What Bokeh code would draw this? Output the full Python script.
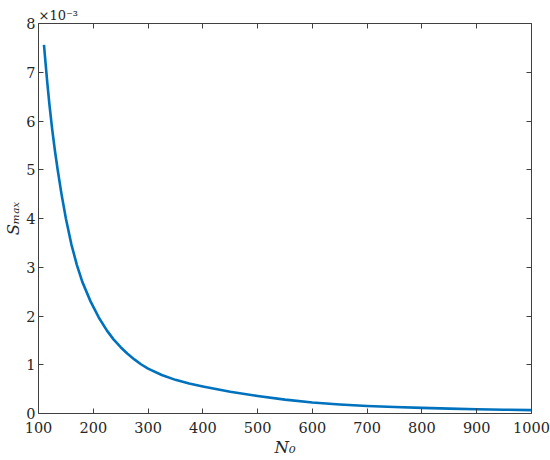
from bokeh.plotting import figure
from bokeh.models import (FixedTicker, LinearAxis, Range1d,
                          CustomJSTickFormatter, ColumnDataSource)
from bokeh.embed import file_html
from bokeh.resources import INLINE

# ---- data ----
n0 = [110, 113, 116, 120, 125, 130, 135, 142, 150, 160, 170, 180, 195, 210,
      225, 237, 250, 262, 275, 287, 300, 325, 350, 375, 400, 450, 500, 550,
      600, 650, 700, 750, 800, 850, 900, 950, 1000]
s_max = [7.56e-3, 7.17e-3, 6.79e-3, 6.33e-3, 5.83e-3, 5.39e-3, 5.00e-3,
         4.50e-3, 4.00e-3, 3.47e-3, 3.05e-3, 2.70e-3, 2.30e-3, 1.97e-3,
         1.70e-3, 1.52e-3, 1.36e-3, 1.23e-3, 1.11e-3, 1.01e-3, 0.92e-3,
         0.79e-3, 0.69e-3, 0.615e-3, 0.555e-3, 0.445e-3, 0.36e-3, 0.285e-3,
         0.225e-3, 0.185e-3, 0.155e-3, 0.133e-3, 0.115e-3, 0.10e-3,
         0.088e-3, 0.078e-3, 0.07e-3]
x_ticks = [100, 200, 300, 400, 500, 600, 700, 800, 900, 1000]
y_ticks = [0, 1e-3, 2e-3, 3e-3, 4e-3, 5e-3, 6e-3, 7e-3, 8e-3]
x_label = "N\u2080"
y_label = "S\u2098\u2090\u2093"
exp_label = "\u00d710\u207b\u00b3"

AX = "#404040"
TXT = "#262626"
FONT = "DejaVu Serif"

p = figure(width=550, height=460, output_backend="svg", toolbar_location=None,
           x_range=Range1d(100, 1000), y_range=Range1d(0, 8e-3),
           min_border_left=38, min_border_right=19, min_border_top=23,
           min_border_bottom=47, x_axis_location=None, y_axis_location=None,
           title=exp_label)
p.outline_line_color = None
p.grid.visible = False
p.background_fill_color = "white"
p.border_fill_color = "white"

p.title.text_font = FONT
p.title.text_font_style = "normal"
p.title.text_font_size = "13px"
p.title.text_color = TXT
p.title.align = "left"
p.title.offset = 0
p.title.standoff = 2

fmt = CustomJSTickFormatter(code="return (Math.round(tick*1000)).toString();")
blank = CustomJSTickFormatter(code="return '';")

def style(ax):
    ax.axis_line_color = AX
    ax.axis_line_width = 1
    ax.major_tick_line_color = AX
    ax.major_tick_in = 5
    ax.major_tick_out = 0
    ax.minor_tick_line_color = None
    ax.major_label_text_font = FONT
    ax.major_label_text_color = TXT
    ax.major_label_text_font_size = "14.5px"
    ax.axis_label_text_font = FONT
    ax.axis_label_text_font_style = "italic"
    ax.axis_label_text_font_size = "16.5px"
    ax.axis_label_text_color = TXT

xb = LinearAxis(ticker=FixedTicker(ticks=x_ticks), axis_label=x_label)
style(xb)
xb.major_label_standoff = 8
xb.axis_label_standoff = 2
p.add_layout(xb, "below")

xt = LinearAxis(ticker=FixedTicker(ticks=x_ticks), formatter=blank)
style(xt)
xt.major_label_standoff = 0
p.add_layout(xt, "above")

yl = LinearAxis(ticker=FixedTicker(ticks=y_ticks), formatter=fmt,
                axis_label=y_label)
style(yl)
yl.major_label_standoff = 3
yl.axis_label_standoff = 0
p.add_layout(yl, "left")

yr = LinearAxis(ticker=FixedTicker(ticks=y_ticks), formatter=blank)
style(yr)
yr.major_label_standoff = 0
p.add_layout(yr, "right")

src = ColumnDataSource(data=dict(x=n0, y=s_max))
p.line("x", "y", source=src, line_color="#0072BD", line_width=2.6,
       line_join="round")

open("out.html", "w").write(file_html(p, INLINE))
